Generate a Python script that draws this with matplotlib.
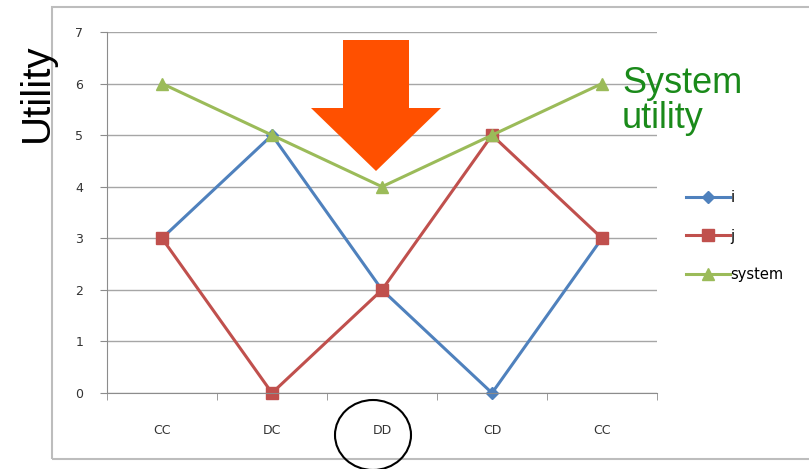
import matplotlib.pyplot as plt
from matplotlib.patches import Polygon, Ellipse, Rectangle

categories = ["CC", "DC", "DD", "CD", "CC"]
util_i = [3, 5, 2, 0, 3]
util_j = [3, 0, 2, 5, 3]
util_system = [6, 5, 4, 5, 6]

W, H = 809, 469
fig = plt.figure(figsize=(W / 100, H / 100), dpi=100)
fig.patch.set_facecolor("white")

# outer chart frame
fig.patches.append(Rectangle((52 / W, 1 - 459 / H), (812 - 52) / W, (459 - 7) / H,
                             transform=fig.transFigure, fill=False,
                             edgecolor="#bdbdbd", linewidth=1.5))

ax = fig.add_axes([107 / W, 1 - 393 / H, 550 / W, (393 - 32) / H])
x = range(len(categories))
ax.plot(x, util_i, color="#4f81bd", marker="D", markersize=6, linewidth=2.2, label="i")
ax.plot(x, util_j, color="#c0504d", marker="s", markersize=8, linewidth=2.2, label="j")
ax.plot(x, util_system, color="#9bbb59", marker="^", markersize=8, linewidth=2.2, label="system")

ax.set_xlim(-0.5, 4.5)
ax.set_ylim(0, 7)
ax.set_yticks(range(8))
ax.set_xticks(list(x))
ax.set_xticklabels(categories)
ax.set_xticks([i - 0.5 for i in range(6)], minor=True)
ax.grid(axis="y", color="#a6a6a6", linewidth=1)
ax.set_axisbelow(True)
for side in ["top", "right"]:
    ax.spines[side].set_visible(False)
for side in ["left", "bottom"]:
    ax.spines[side].set_color("#8c8c8c")
ax.tick_params(axis="y", colors="#8c8c8c", labelcolor="#333333", labelsize=9, length=5, pad=12)
ax.tick_params(axis="x", which="major", length=0, labelcolor="#333333", labelsize=9, pad=22)
ax.tick_params(axis="x", which="minor", length=5, color="#8c8c8c")
for line in ax.lines:
    line.set_clip_on(False)

ax.legend(loc="center left", bbox_to_anchor=(680 / W, 1 - 236 / H), bbox_transform=fig.transFigure,
          frameon=False, fontsize=10.5, handlelength=3.0, labelspacing=1.6, handletextpad=0.05,
          borderaxespad=0)

fig.text(37 / W, 1 - 93 / H, "Utility", rotation=90, ha="center", va="center", fontsize=29,
         family="Liberation Sans")
fig.text(622 / W, 1 - 101 / H, "System\nutility", ha="left", va="center", fontsize=26,
         color="#1a8a1a", family="Liberation Sans", linespacing=1.0)

# big arrow pointing down at DD
arrow = [(343, 40), (409, 40), (409, 108), (441, 108), (376, 171), (311, 108), (343, 108)]
fig.patches.append(Polygon([(px / W, 1 - py / H) for px, py in arrow], closed=True,
                           transform=fig.transFigure, facecolor="#ff5000", edgecolor="none"))

# circle around DD label
fig.patches.append(Ellipse((373 / W, 1 - 435 / H), 76 / W, 70 / H, transform=fig.transFigure,
                           fill=False, edgecolor="black", linewidth=1.5))

fig.savefig("out.png", dpi=100)
